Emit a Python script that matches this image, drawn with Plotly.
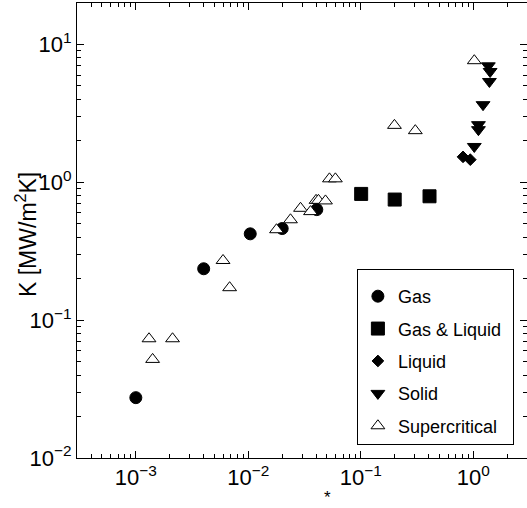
import plotly.graph_objects as go

FONT = "Liberation Sans, Arial, Helvetica, sans-serif"

# ---- data ----
gas_x = [0.001, 0.00401, 0.0104, 0.020, 0.0406]
gas_y = [0.0274, 0.236, 0.423, 0.462, 0.634]

gasliq_x = [0.1007, 0.20, 0.408]
gasliq_y = [0.824, 0.75, 0.792]

liquid_x = [0.81, 0.94]
liquid_y = [1.53, 1.46]

solid_x = [1.36, 1.41, 1.39, 1.22, 1.11, 1.11, 1.02]
solid_y = [7.0, 6.37, 5.39, 3.66, 2.62, 2.41, 1.82]

super_x = [0.00131, 0.00212, 0.00141, 0.00596, 0.00682, 0.0178, 0.0237, 0.0291,
           0.0357, 0.040, 0.042, 0.0485, 0.0526, 0.0594, 0.199, 0.305, 1.02]
super_y = [0.0733, 0.0733, 0.0519, 0.271, 0.172, 0.453, 0.535, 0.648,
           0.613, 0.74, 0.74, 0.733, 1.06, 1.06, 2.59, 2.37, 7.63]

x_tickvals = [0.001, 0.01, 0.1, 1]
x_ticktext = ["10<sup>\u22123</sup>", "10<sup>\u22122</sup>", "10<sup>\u22121</sup>", "10<sup>0</sup>"]
y_tickvals = [0.01, 0.1, 1, 10]
y_ticktext = ["10<sup>\u22122</sup>", "10<sup>\u22121</sup>", "10<sup>0</sup>", "10<sup>1</sup>"]

x_range = [-3.5229, 0.4771]   # 3e-4 .. 3
y_range = [-2.0, 1.30103]     # 1e-2 .. 20

fig = go.Figure()

def add(name, xs, ys, symbol, size, fill="black"):
    fig.add_trace(go.Scatter(
        x=xs, y=ys, mode="markers", name=name, legendgroup=name,
        marker=dict(symbol=symbol, size=size, color=fill,
                    line=dict(color="black", width=1)),
    ))

add("Gas", gas_x, gas_y, "circle", 12)
add("Gas & Liquid", gasliq_x, gasliq_y, "square", 13)
add("Liquid", liquid_x, liquid_y, "diamond", 9)
add("Solid", solid_x, solid_y, "triangle-down", 12)
add("Supercritical\u00a0\u00a0", super_x, super_y, "triangle-up", 12, fill="white")

axis_common = dict(
    type="log", showgrid=False, zeroline=False, automargin=False,
    ticks="inside", ticklen=7, tickcolor="black", tickwidth=1,
    minor=dict(ticks="inside", ticklen=4, dtick="D1", tickcolor="black", showgrid=False),
    tickfont=dict(family=FONT, size=22, color="black"),
    linecolor="black", linewidth=1, showline=True,
)

fig.update_layout(
    width=527, height=508,
    margin=dict(l=77, r=0, t=3, b=50, autoexpand=False),
    paper_bgcolor="white", plot_bgcolor="white",
    font=dict(family=FONT, color="black"),
    xaxis=dict(axis_common, range=x_range, mirror="ticks",
               tickmode="array", tickvals=x_tickvals, ticktext=x_ticktext),
    yaxis=dict(axis_common, range=y_range, mirror=False,
               tickmode="array", tickvals=y_tickvals, ticktext=y_ticktext),
    yaxis2=dict(type="log", range=y_range, overlaying="y", side="right", anchor="x",
                automargin=False,
                showline=False, showgrid=False, zeroline=False, showticklabels=False,
                ticks="inside", ticklen=7, tickmode="array", tickvals=y_tickvals,
                tickcolor="black",
                minor=dict(ticks="inside", ticklen=4, dtick="D1", tickcolor="black", showgrid=False)),
    legend=dict(x=0.622, y=0.415, xanchor="left", yanchor="top",
                bordercolor="black", borderwidth=1, bgcolor="white",
                font=dict(family=FONT, size=18, color="black"),
                title=dict(text=" ", font=dict(size=6)),
                tracegroupgap=6),
    showlegend=True,
)

# invisible trace so the right-hand axis is drawn
fig.add_trace(go.Scatter(x=[0.001], y=[1], yaxis="y2", mode="markers",
                         marker=dict(opacity=0), showlegend=False, hoverinfo="skip"))

# y-axis title
fig.add_annotation(text="K [MW/m<sup>2</sup>K]", textangle=-90,
                   x=(26 - 77) / 450, y=(458 - 235) / 455, xref="paper", yref="paper",
                   xanchor="center", yanchor="middle", showarrow=False,
                   font=dict(family=FONT, size=23, color="black"))

# x-axis title remnant (only the asterisk is visible)
fig.add_annotation(text="*", x=(327 - 77) / 450, y=(458 - 508) / 455,
                   xref="paper", yref="paper", borderpad=0,
                   xanchor="center", yanchor="bottom",
                   showarrow=False, font=dict(family=FONT, size=17, color="black"))

fig.write_html("out.html", config={"displayModeBar": False},
               post_script="document.body.style.margin='0';document.body.style.overflow='hidden';")
